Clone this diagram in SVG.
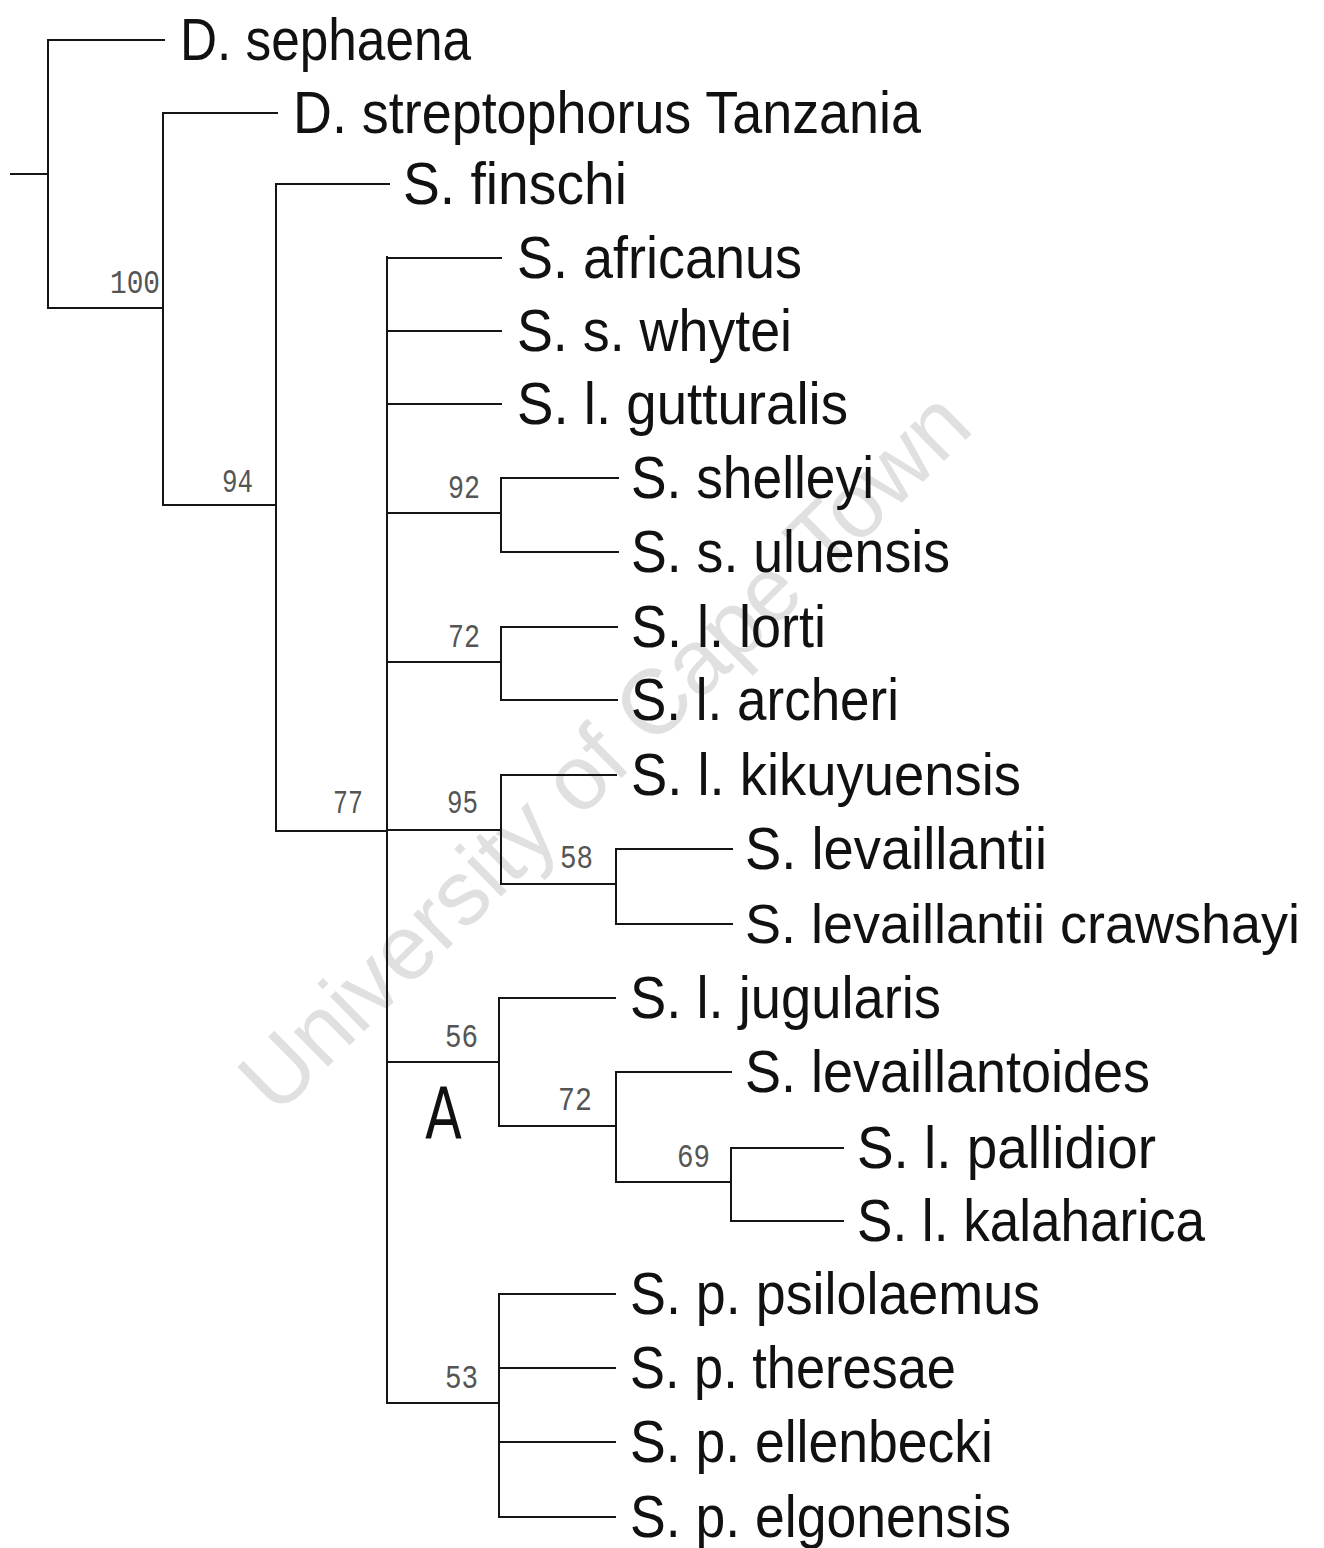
<svg xmlns="http://www.w3.org/2000/svg" width="1324" height="1548" viewBox="0 0 1324 1548">
<style>
.lbl{font-family:"Liberation Sans",Arial,sans-serif;font-size:60px;fill:#111}
.sup{font-family:"Liberation Mono","DejaVu Sans Mono",monospace;font-size:34px;fill:#555}
.wm{font-family:"Liberation Sans",Arial,sans-serif;font-size:92px;fill:#e0e0e0}
.br{fill:none;stroke:#151515;stroke-width:2;stroke-linecap:square}
</style>
<rect width="1324" height="1548" fill="#fff"/>
<g id="watermark">
<text class="wm" transform="translate(603,750) rotate(-44.5)" x="0" y="33" text-anchor="middle" textLength="980" lengthAdjust="spacingAndGlyphs">University of Cape Town</text>
</g>
<g id="connectors" class="br">
<path d="M11,174 H48 M48,40 V308 M48,40 H164 M48,308 H163"/>
<path d="M163,113 V505 M163,113 H277 M163,505 H276"/>
<path d="M276,184 V831 M276,184 H389 M276,831 H387"/>
<path d="M387,257 V1403 M387,258 H501 M387,331 H501 M387,404 H501 M387,513 H501 M387,662 H501 M387,830 H501 M387,1062 H499 M387,1403 H499"/>
<path d="M501,478 V552 M501,478 H618 M501,552 H618"/>
<path d="M501,627 V700 M501,627 H617 M501,700 H617"/>
<path d="M501,775 V884 M501,775 H616 M501,884 H616"/>
<path d="M616,849 V924 M616,849 H732 M616,924 H732"/>
<path d="M499,998 V1126 M499,998 H615 M499,1126 H616"/>
<path d="M616,1072 V1182 M616,1072 H731 M616,1182 H731"/>
<path d="M731,1148 V1221 M731,1148 H843 M731,1221 H843"/>
<path d="M499,1294 V1517 M499,1294 H615 M499,1368 H615 M499,1442 H615 M499,1517 H615"/>
</g>
<g id="support">
<text class="sup" x="110" y="293" textLength="50" lengthAdjust="spacingAndGlyphs">100</text>
<text class="sup" x="222" y="492" textLength="31" lengthAdjust="spacingAndGlyphs">94</text>
<text class="sup" x="448" y="498" textLength="32" lengthAdjust="spacingAndGlyphs">92</text>
<text class="sup" x="448" y="647" textLength="32" lengthAdjust="spacingAndGlyphs">72</text>
<text class="sup" x="333" y="813" textLength="30" lengthAdjust="spacingAndGlyphs">77</text>
<text class="sup" x="447" y="813" textLength="31" lengthAdjust="spacingAndGlyphs">95</text>
<text class="sup" x="560" y="868" textLength="33" lengthAdjust="spacingAndGlyphs">58</text>
<text class="sup" x="445" y="1047" textLength="33" lengthAdjust="spacingAndGlyphs">56</text>
<text class="sup" x="558" y="1110" textLength="34" lengthAdjust="spacingAndGlyphs">72</text>
<text class="sup" x="677" y="1167" textLength="33" lengthAdjust="spacingAndGlyphs">69</text>
<text class="sup" x="445" y="1388" textLength="33" lengthAdjust="spacingAndGlyphs">53</text>
</g>
<g id="mark-A">
<text x="425" y="1138" font-family="'DejaVu Sans',sans-serif" font-size="72" fill="#111" textLength="37" lengthAdjust="spacingAndGlyphs">A</text>
</g>
<g id="taxa">
<g id="t1"><text class="lbl" x="180" y="60" textLength="291" lengthAdjust="spacingAndGlyphs">D. sephaena</text></g>
<g id="t2"><text class="lbl" x="293" y="133" textLength="628" lengthAdjust="spacingAndGlyphs">D. streptophorus Tanzania</text></g>
<g id="t3"><text class="lbl" x="403" y="204" textLength="224" lengthAdjust="spacingAndGlyphs">S. finschi</text></g>
<g id="t4"><text class="lbl" x="517" y="278" textLength="285" lengthAdjust="spacingAndGlyphs">S. africanus</text></g>
<g id="t5"><text class="lbl" x="517" y="351" textLength="275" lengthAdjust="spacingAndGlyphs">S. s. whytei</text></g>
<g id="t6"><text class="lbl" x="517" y="424" textLength="331" lengthAdjust="spacingAndGlyphs">S. l. gutturalis</text></g>
<g id="t7"><text class="lbl" x="631" y="498" textLength="243" lengthAdjust="spacingAndGlyphs">S. shelleyi</text></g>
<g id="t8"><text class="lbl" x="631" y="572" textLength="319" lengthAdjust="spacingAndGlyphs">S. s. uluensis</text></g>
<g id="t9"><text class="lbl" x="631" y="647" textLength="195" lengthAdjust="spacingAndGlyphs">S. l. lorti</text></g>
<g id="t10"><text class="lbl" x="631" y="720" textLength="268" lengthAdjust="spacingAndGlyphs">S. l. archeri</text></g>
<g id="t11"><text class="lbl" x="631" y="795" textLength="390" lengthAdjust="spacingAndGlyphs">S. l. kikuyuensis</text></g>
<g id="t12"><text class="lbl" x="745" y="869" textLength="302" lengthAdjust="spacingAndGlyphs">S. levaillantii</text></g>
<g id="t13"><text class="lbl" x="745" y="943" font-size="56" style="font-size:56px" textLength="555" lengthAdjust="spacingAndGlyphs">S. levaillantii crawshayi</text></g>
<g id="t14"><text class="lbl" x="630" y="1018" textLength="311" lengthAdjust="spacingAndGlyphs">S. l. jugularis</text></g>
<g id="t15"><text class="lbl" x="745" y="1092" textLength="405" lengthAdjust="spacingAndGlyphs">S. levaillantoides</text></g>
<g id="t16"><text class="lbl" x="857" y="1168" textLength="299" lengthAdjust="spacingAndGlyphs">S. l. pallidior</text></g>
<g id="t17"><text class="lbl" x="857" y="1241" textLength="348" lengthAdjust="spacingAndGlyphs">S. l. kalaharica</text></g>
<g id="t18"><text class="lbl" x="630" y="1314" textLength="410" lengthAdjust="spacingAndGlyphs">S. p. psilolaemus</text></g>
<g id="t19"><text class="lbl" x="630" y="1388" textLength="326" lengthAdjust="spacingAndGlyphs">S. p. theresae</text></g>
<g id="t20"><text class="lbl" x="630" y="1462" textLength="363" lengthAdjust="spacingAndGlyphs">S. p. ellenbecki</text></g>
<g id="t21"><text class="lbl" x="630" y="1537" textLength="381" lengthAdjust="spacingAndGlyphs">S. p. elgonensis</text></g>
</g>
</svg>
